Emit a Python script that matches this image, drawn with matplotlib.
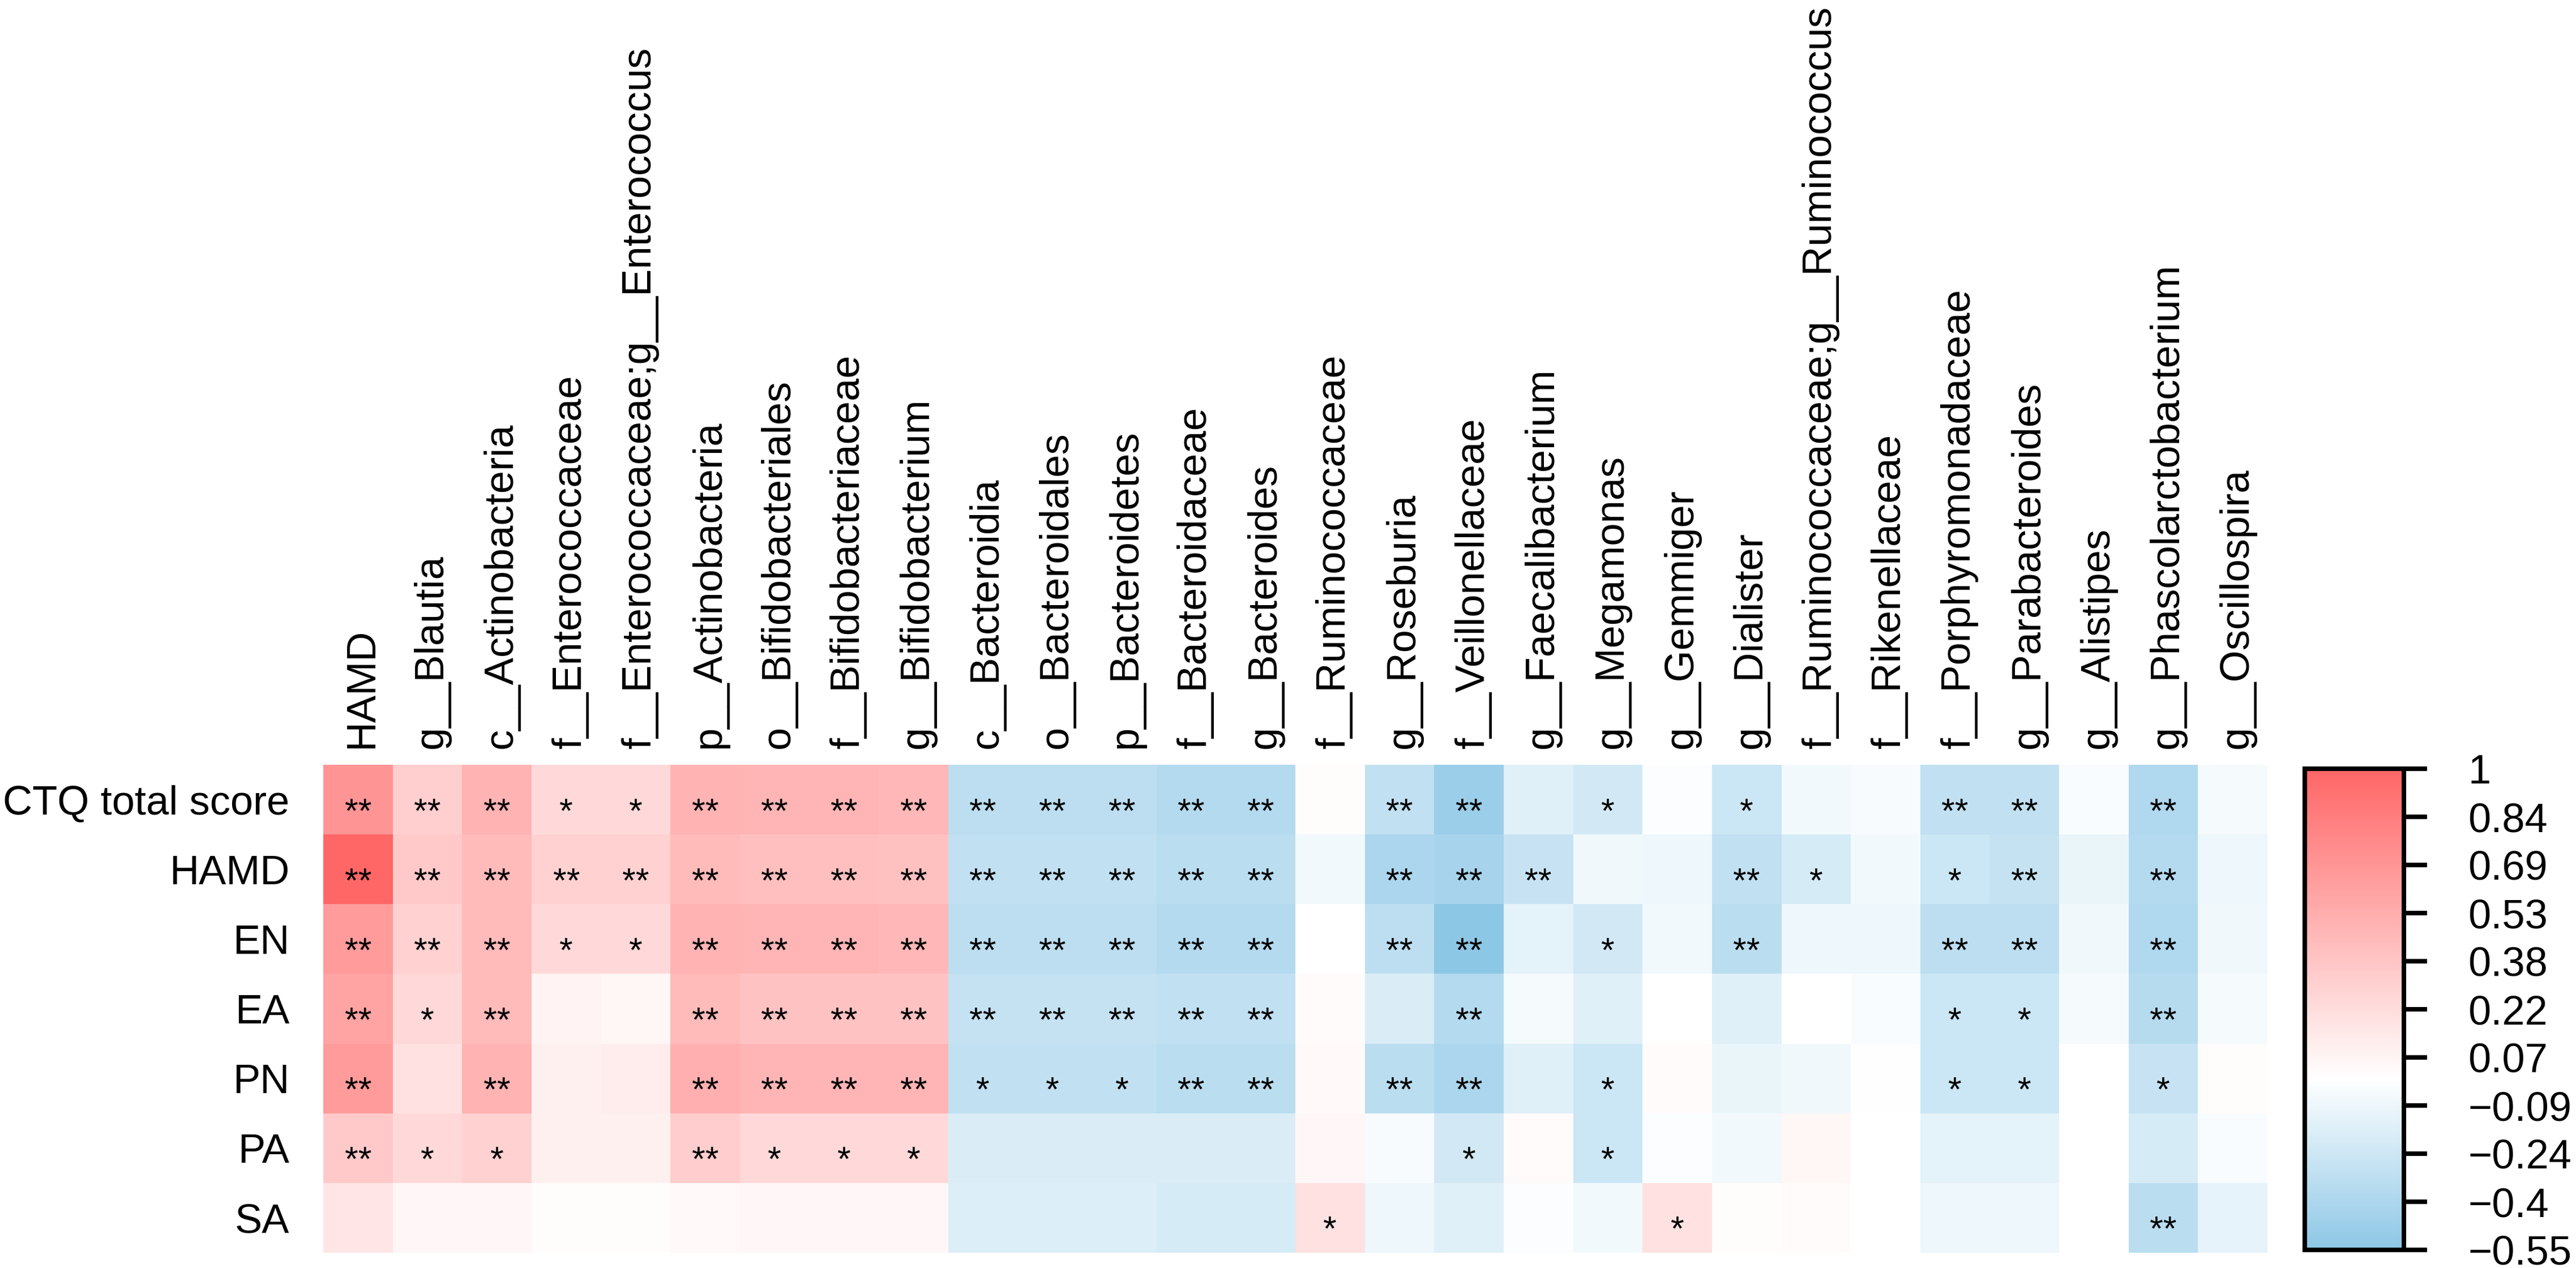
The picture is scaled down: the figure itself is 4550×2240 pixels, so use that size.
import numpy as np
import matplotlib
matplotlib.use("Agg")
import matplotlib.pyplot as plt
from matplotlib.colors import LinearSegmentedColormap, Normalize

plt.rcParams['font.family'] = ['Liberation Sans', 'DejaVu Sans']

# ---------------- data ----------------
row_labels = ["CTQ total score", "HAMD", "EN", "EA", "PN", "PA", "SA"]

col_labels = [
    "HAMD", "g__Blautia", "c__Actinobacteria", "f__Enterococcaceae",
    "f__Enterococcaceae;g__Enterococcus", "p__Actinobacteria",
    "o__Bifidobacteriales", "f__Bifidobacteriaceae", "g__Bifidobacterium",
    "c__Bacteroidia", "o__Bacteroidales", "p__Bacteroidetes",
    "f__Bacteroidaceae", "g__Bacteroides", "f__Ruminococcaceae",
    "g__Roseburia", "f__Veillonellaceae", "g__Faecalibacterium",
    "g__Megamonas", "g__Gemmiger", "g__Dialister",
    "f__Ruminococcaceae;g__Ruminococcus", "f__Rikenellaceae",
    "f__Porphyromonadaceae", "g__Parabacteroides", "g__Alistipes",
    "g__Phascolarctobacterium", "g__Oscillospira",
]

# correlation coefficients, one list per row (estimated from the figure)
r_ctq = [0.70, 0.32, 0.50, 0.25, 0.25, 0.50, 0.48, 0.48, 0.47,
         -0.32, -0.32, -0.32, -0.36, -0.36, 0.02, -0.30, -0.48, -0.15,
         -0.22, -0.02, -0.25, -0.06, -0.04, -0.30, -0.30, -0.03, -0.38, -0.05]
r_hamd = [1.00, 0.35, 0.45, 0.30, 0.30, 0.45, 0.42, 0.42, 0.41,
          -0.30, -0.30, -0.30, -0.33, -0.33, -0.06, -0.40, -0.42, -0.27,
          -0.07, -0.08, -0.30, -0.20, -0.06, -0.25, -0.28, -0.10, -0.36, -0.08]
r_en = [0.65, 0.30, 0.45, 0.25, 0.25, 0.50, 0.48, 0.48, 0.47,
        -0.32, -0.32, -0.32, -0.36, -0.36, 0.00, -0.32, -0.55, -0.13,
        -0.22, -0.06, -0.33, -0.08, -0.08, -0.32, -0.32, -0.07, -0.38, -0.07]
r_ea = [0.60, 0.25, 0.45, 0.08, 0.06, 0.45, 0.40, 0.40, 0.40,
        -0.28, -0.28, -0.28, -0.30, -0.30, 0.03, -0.18, -0.36, -0.05,
        -0.15, 0.00, -0.15, 0.00, -0.03, -0.25, -0.25, -0.05, -0.35, -0.05]
r_pn = [0.65, 0.20, 0.50, 0.10, 0.12, 0.52, 0.48, 0.48, 0.48,
        -0.30, -0.30, -0.30, -0.33, -0.33, 0.04, -0.33, -0.40, -0.15,
        -0.25, 0.03, -0.10, -0.07, 0.01, -0.25, -0.25, 0.00, -0.27, 0.02]
r_pa = [0.35, 0.25, 0.30, 0.10, 0.10, 0.33, 0.25, 0.25, 0.25,
        -0.18, -0.18, -0.18, -0.18, -0.18, 0.05, -0.04, -0.22, 0.03,
        -0.25, -0.02, -0.06, 0.06, 0.00, -0.13, -0.13, 0.00, -0.20, -0.03]
r_sa = [0.17, 0.05, 0.05, 0.02, 0.02, 0.04, 0.05, 0.05, 0.05,
        -0.17, -0.17, -0.17, -0.20, -0.20, 0.20, -0.08, -0.15, -0.02,
        -0.06, 0.20, 0.02, 0.03, 0.00, -0.08, -0.08, 0.00, -0.33, -0.12]

# significance marks, one list per row
s_ctq = ["**", "**", "**", "*", "*", "**", "**", "**", "**", "**", "**", "**", "**", "**",
         "", "**", "**", "", "*", "", "*", "", "", "**", "**", "", "**", ""]
s_hamd = ["**", "**", "**", "**", "**", "**", "**", "**", "**", "**", "**", "**", "**", "**",
          "", "**", "**", "**", "", "", "**", "*", "", "*", "**", "", "**", ""]
s_en = ["**", "**", "**", "*", "*", "**", "**", "**", "**", "**", "**", "**", "**", "**",
        "", "**", "**", "", "*", "", "**", "", "", "**", "**", "", "**", ""]
s_ea = ["**", "*", "**", "", "", "**", "**", "**", "**", "**", "**", "**", "**", "**",
        "", "", "**", "", "", "", "", "", "", "*", "*", "", "**", ""]
s_pn = ["**", "", "**", "", "", "**", "**", "**", "**", "*", "*", "*", "**", "**",
        "", "**", "**", "", "*", "", "", "", "", "*", "*", "", "*", ""]
s_pa = ["**", "*", "*", "", "", "**", "*", "*", "*", "", "", "", "", "",
        "", "", "*", "", "*", "", "", "", "", "", "", "", "", ""]
s_sa = ["", "", "", "", "", "", "", "", "", "", "", "", "", "",
        "*", "", "", "", "", "*", "", "", "", "", "", "", "**", ""]

cbar_ticks = [-0.55, -0.395, -0.24, -0.085, 0.07, 0.225, 0.38, 0.535, 0.69, 0.845, 1.0]
cbar_labels = ["\u22120.55", "\u22120.4", "\u22120.24", "\u22120.09", "0.07", "0.22",
               "0.38", "0.53", "0.69", "0.84", "1"]

values = np.array([r_ctq, r_hamd, r_en, r_ea, r_pn, r_pa, r_sa])
stars = [s_ctq, s_hamd, s_en, s_ea, s_pn, s_pa, s_sa]

# ---------------- figure ----------------
W, H = 4550, 2240
fig = plt.figure(figsize=(W / 100, H / 100), dpi=100)

vmin, vmax = -0.55, 1.0
mid = (0 - vmin) / (vmax - vmin)
cmap = LinearSegmentedColormap.from_list(
    "bwr_custom", [(0.0, "#8DC7E6"), (mid, "#FFFFFF"), (1.0, "#FF6666")], N=512)
norm = Normalize(vmin=vmin, vmax=vmax)

left, right, top, bottom = 571, 4005, 1351, 2213
ax = fig.add_axes([left / W, 1 - bottom / H, (right - left) / W, (bottom - top) / H])
nrow, ncol = values.shape
mesh = ax.pcolormesh(np.arange(ncol + 1), np.arange(nrow + 1), values,
                     cmap=cmap, norm=norm, antialiased=False, edgecolors="none")
ax.set_xlim(0, ncol)
ax.set_ylim(nrow, 0)
for sp in ax.spines.values():
    sp.set_visible(False)

ax.set_yticks(np.arange(nrow) + 0.5)
ax.set_yticklabels(row_labels, fontsize=52)
ax.tick_params(axis="y", length=0, pad=43)

ax.xaxis.tick_top()
ax.set_xticks(np.arange(ncol) + 0.5)
ax.set_xticklabels(col_labels, rotation=90, rotation_mode="anchor",
                   ha="left", va="center_baseline", fontsize=52)
ax.tick_params(axis="x", length=0, pad=21)

for i in range(nrow):
    for j in range(ncol):
        s = stars[i][j]
        if s:
            ax.text(j + 0.5, i + 0.5 + 0.32, s, ha="center", va="baseline",
                    fontsize=44, color="black")

# ---------------- colorbar ----------------
cl, cr, ct, cbt = 4071, 4246, 1358, 2208
cax = fig.add_axes([cl / W, 1 - cbt / H, (cr - cl) / W, (cbt - ct) / H])
cb = fig.colorbar(mesh, cax=cax, ticks=cbar_ticks)
cb.set_ticklabels(cbar_labels)
cb.outline.set_linewidth(5.8)
cb.outline.set_edgecolor("black")
cax.tick_params(length=29.5, width=5.8, pad=52, labelsize=52, color="black")

fig.savefig("out.png", dpi=100, facecolor="white")
